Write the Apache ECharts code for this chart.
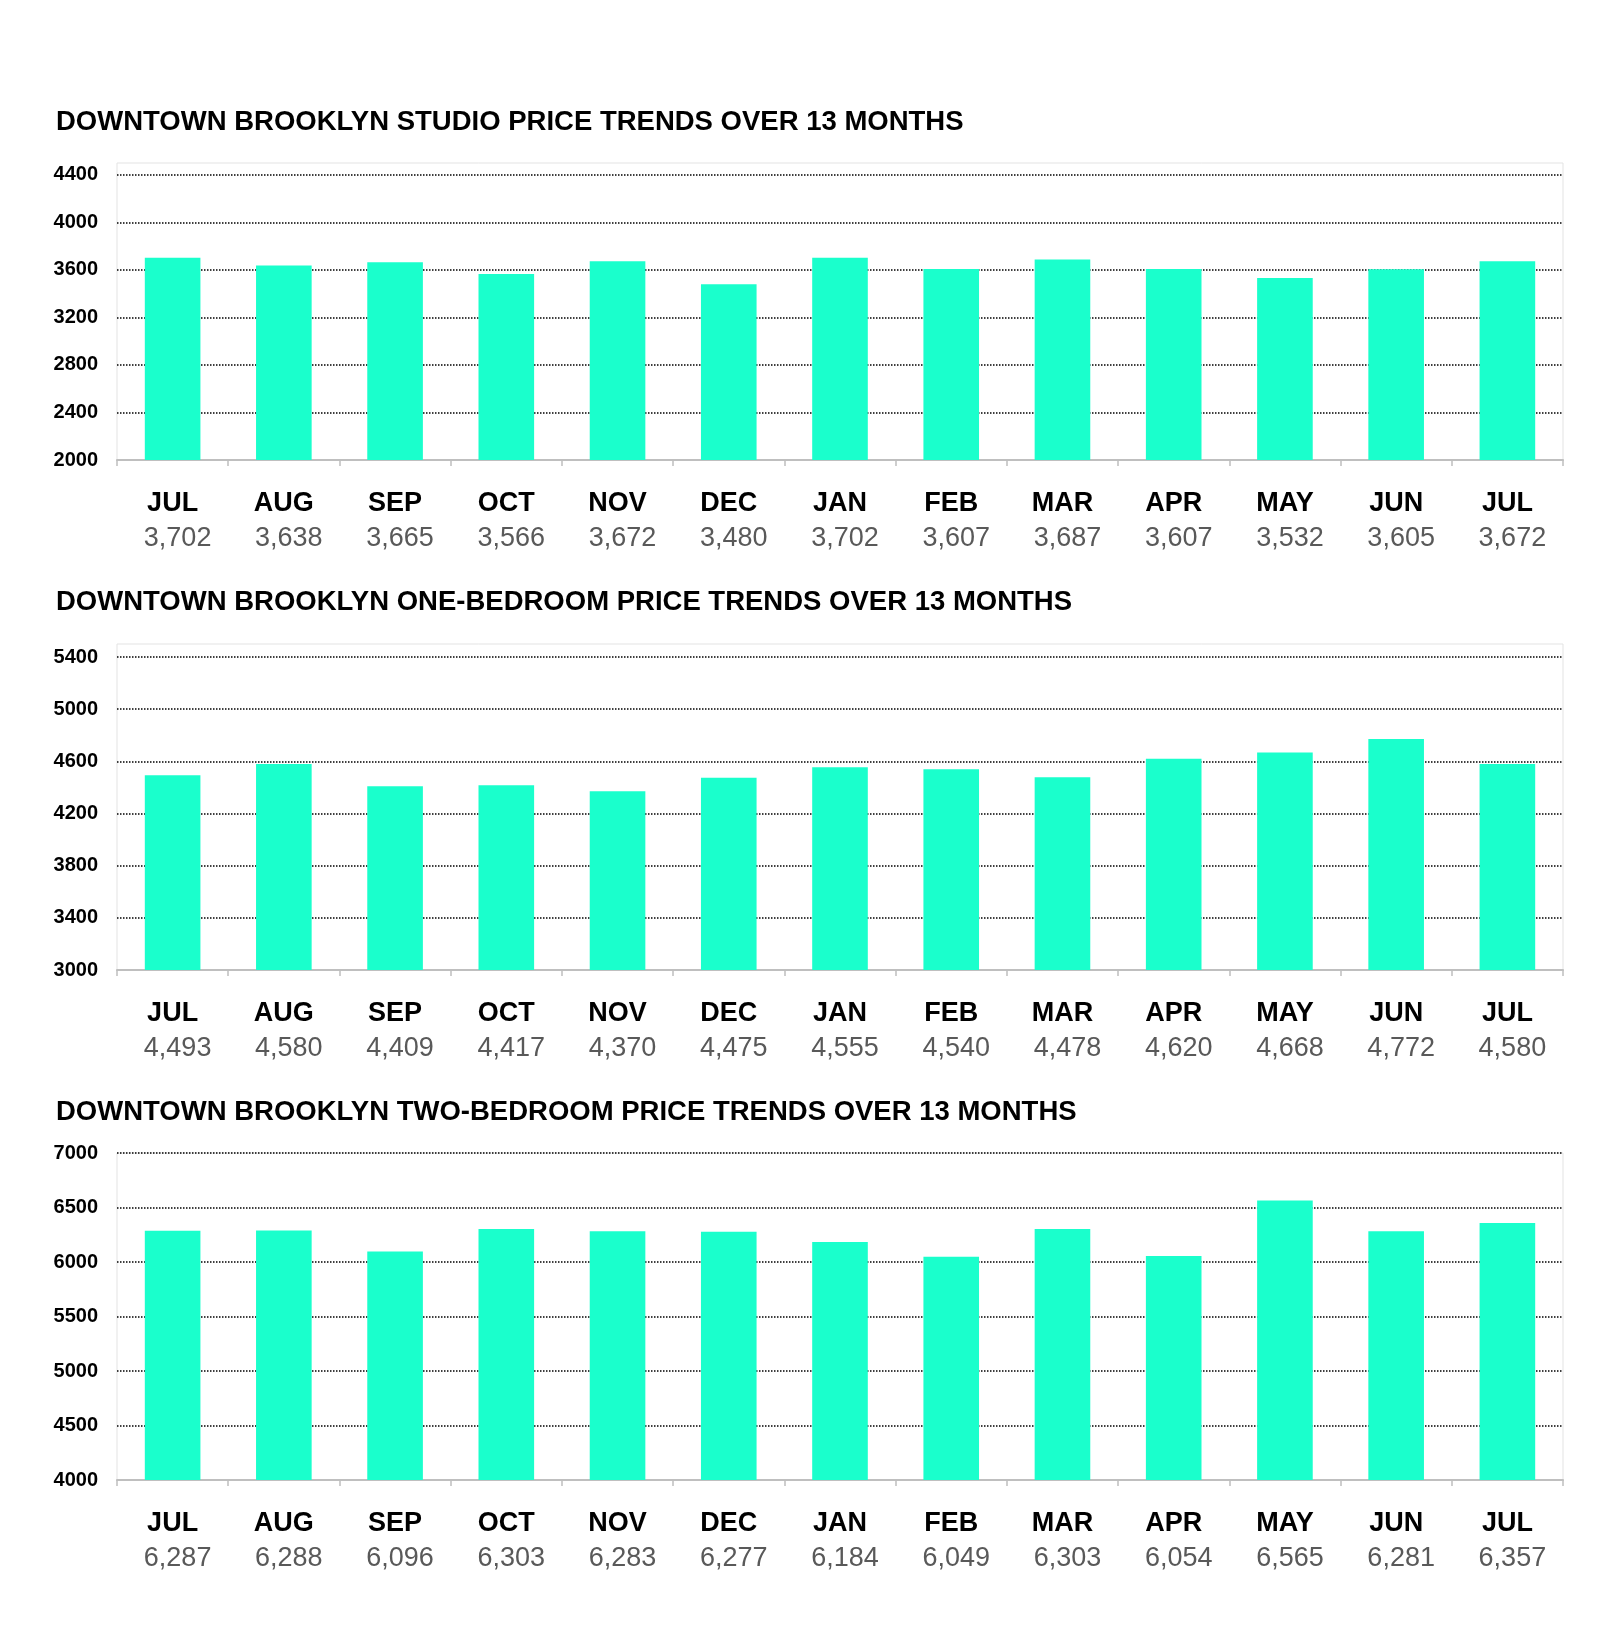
<!DOCTYPE html>
<html>
<head>
<meta charset="utf-8">
<script src="https://cdn.jsdelivr.net/npm/echarts@6/dist/echarts.min.js"></script>
<style>
html,body{margin:0;padding:0;background:#fff;}
#chart{width:1600px;height:1649px;}
</style>
</head>
<body>
<div id="chart"></div>
<script>
const months = ['JUL','AUG','SEP','OCT','NOV','DEC','JAN','FEB','MAR','APR','MAY','JUN','JUL'];
const studio = [3702, 3638, 3665, 3566, 3672, 3480, 3702, 3607, 3687, 3607, 3532, 3605, 3672];
const oneBed = [4493, 4580, 4409, 4417, 4370, 4475, 4555, 4540, 4478, 4620, 4668, 4772, 4580];
const twoBed = [6287, 6288, 6096, 6303, 6283, 6277, 6184, 6049, 6303, 6054, 6565, 6281, 6357];
const titles = [
  'DOWNTOWN BROOKLYN STUDIO PRICE TRENDS OVER 13 MONTHS',
  'DOWNTOWN BROOKLYN ONE-BEDROOM PRICE TRENDS OVER 13 MONTHS',
  'DOWNTOWN BROOKLYN TWO-BEDROOM PRICE TRENDS OVER 13 MONTHS'
];
const yMin = [2000, 3000, 4000];
const yMax = [4500, 5500, 7000];
const yStep = [400, 400, 500];

const seriesData = [studio, oneBed, twoBed];
const gridTop = [163, 644, 1153];
const gridHeight = [297, 326, 327];
const titleTop = [107, 587, 1097];

const fmt = v => v.toLocaleString('en-US');
const font = '"Liberation Sans", Arial, sans-serif';

const option = {
  backgroundColor: '#ffffff',
  animation: false,
  title: titles.map((t, i) => ({
    text: t, left: 56, top: titleTop[i], padding: 0,
    textStyle: {fontFamily: font, fontSize: 27.5, fontWeight: 'bold', color: '#000', lineHeight: 30}
  })),
  grid: [0,1,2].map(i => ({
    left: 117, right: 37, top: gridTop[i], height: gridHeight[i],
    show: true, borderColor: '#e3e3e3', borderWidth: 1, backgroundColor: 'transparent'
  })),
  xAxis: [0,1,2].map(i => ({
    type: 'category', gridIndex: i, data: months,
    axisLine: {show: true, lineStyle: {color: '#bfbfbf', width: 2}},
    axisTick: {show: true, length: 6, lineStyle: {color: '#bfbfbf', width: 1.5}},
    axisLabel: {
      interval: 0, margin: 26,
      formatter: (v, idx) => '{m|' + v + '}\n{v|' + fmt(seriesData[i][idx]) + '}',
      rich: {
        m: {fontFamily: font, fontSize: 27, fontWeight: 'bold', color: '#000', lineHeight: 35},
        v: {fontFamily: font, fontSize: 27, color: '#595959', lineHeight: 35, padding: [0,0,0,10]}
      }
    }
  })),
  yAxis: [0,1,2].map(i => ({
    type: 'value', gridIndex: i, min: yMin[i], max: yMax[i], interval: yStep[i],
    axisLine: {show: false}, axisTick: {show: false},
    axisLabel: {
      margin: 19, fontFamily: font, fontSize: 20, fontWeight: 'bold', color: '#000',
      formatter: v => ((v - yMin[i]) % yStep[i] === 0) ? String(v) : ''
    },
    splitLine: {show: true, showMinLine: false, showMaxLine: (yMax[i]-yMin[i]) % yStep[i] === 0,
      lineStyle: {color: '#000', width: 1.5, type: [1.5, 1.5]}}
  })),
  series: [0,1,2].map(i => ({
    type: 'bar', xAxisIndex: i, yAxisIndex: i, data: seriesData[i],
    barWidth: '50%', itemStyle: {color: '#1affcc'}
  }))
};

const chart = echarts.init(document.getElementById('chart'), null, {renderer: 'canvas'});
chart.setOption(option);
</script>
</body>
</html>
